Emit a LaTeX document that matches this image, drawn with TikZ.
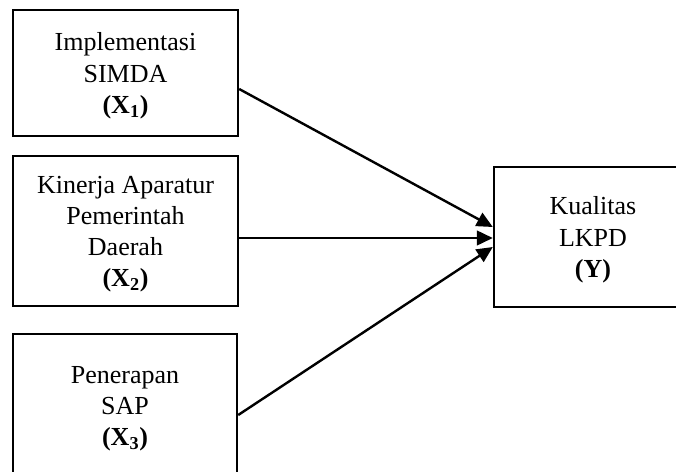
\documentclass[tikz,border=0pt]{standalone}
\usepackage{fontspec}
\setmainfont{Liberation Serif}
\usetikzlibrary{arrows.meta}
\begin{document}
\begin{tikzpicture}[x=0.75pt,y=-0.75pt,
  box/.style={draw,line width=1.8pt,align=center,inner sep=0pt,text depth=-1pt,font=\fontsize{19.5}{23.3}\selectfont},
  arr/.style={-{Triangle[length=12pt,width=11pt]},line width=1.8pt}]
\path[use as bounding box,clip] (0,0) rectangle (676,472);
\node[box,minimum width=168.75pt,minimum height=94.5pt] (simda) at (125.5,73) {Implementasi\\SIMDA\\\textbf{(X\textsubscript{1})}};
\node[box,minimum width=168.75pt,minimum height=112.5pt] (kinerja) at (125.5,231) {Kinerja Aparatur\\Pemerintah\\Daerah\\\textbf{(X\textsubscript{2})}};
\node[box,minimum width=168pt,minimum height=108pt] (sap) at (125,406) {Penerapan\\SAP\\\textbf{(X\textsubscript{3})}};
\node[box,minimum width=148.5pt,minimum height=105pt] (lkpd) at (593,237) {Kualitas\\LKPD\\\textbf{(Y)}};
\draw[arr] ([yshift=-12pt]simda.east) -- ([yshift=7.5pt]lkpd.west);
\draw[arr] ([yshift=-5.25pt]kinerja.east) -- ([yshift=-0.75pt]lkpd.west);
\draw[arr] ([yshift=-6.75pt]sap.east) -- ([yshift=-7.5pt]lkpd.west);
\end{tikzpicture}
\end{document}
